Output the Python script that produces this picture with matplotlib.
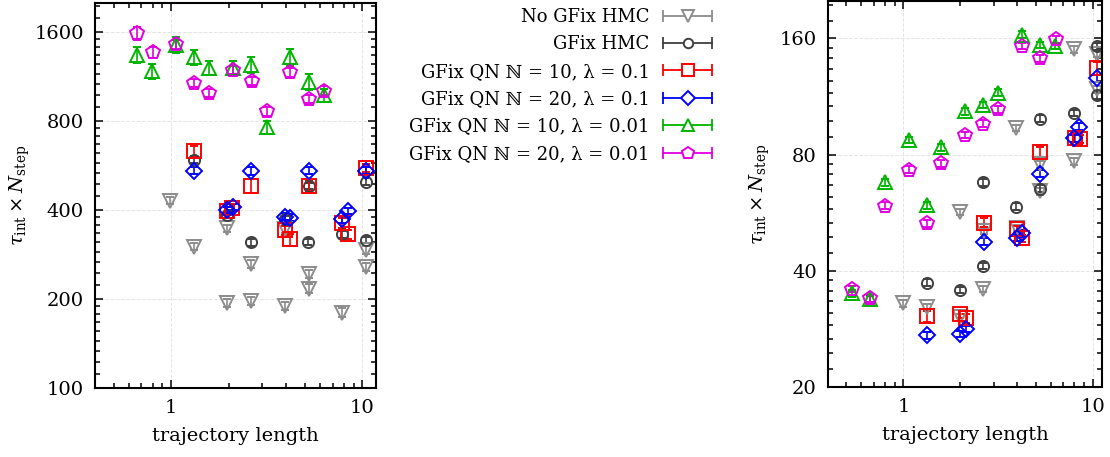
import matplotlib
matplotlib.use('Agg')
import matplotlib.pyplot as plt
from matplotlib.lines import Line2D
from matplotlib.legend_handler import HandlerBase
from matplotlib.ticker import FixedLocator, NullFormatter

plt.rcParams['font.family'] = ['DejaVu Serif', 'DejaVu Sans']
plt.rcParams['font.size'] = 13
plt.rcParams['mathtext.fontset'] = 'dejavuserif'

labels = ['No GFix HMC', 'GFix HMC',
          'GFix QN ℕ = 10, λ = 0.1', 'GFix QN ℕ = 20, λ = 0.1',
          'GFix QN ℕ = 10, λ = 0.01', 'GFix QN ℕ = 20, λ = 0.01']
colors = ['#8c8c8c', '#404040', '#ff0000', '#0000ff', '#00b400', '#e000e0']
markers = ['v', 'o', 's', 'D', '^', 'p']
sizes = [9.5, 8, 10, 8, 10, 10.5]

# left panel
l_nogfix_x = [0.99, 1.32, 1.97, 1.97, 2.63, 2.63, 3.92, 3.95, 5.25, 5.25, 7.87, 10.4, 10.4]
l_nogfix_y = [430, 301, 347, 194, 263, 197, 344, 189, 243, 217, 180, 293, 257]
l_nogfix_e = [12, 9, 10, 6, 8, 6, 10, 6, 7, 7, 6, 9, 8]
l_gfix_x = [1.32, 1.97, 2.63, 3.92, 5.22, 5.25, 7.83, 10.4, 10.5]
l_gfix_y = [590, 385, 311, 372, 312, 482, 331, 317, 499]
l_gfix_e = [15, 10, 8, 10, 8, 12, 9, 8, 13]
l_qn10a_x = [1.32, 1.96, 2.09, 2.63, 3.92, 4.2, 5.25, 7.83, 8.39, 10.5]
l_qn10a_y = [635, 398, 406, 483, 342, 318, 482, 362, 331, 556]
l_qn10a_e = [25, 12, 12, 25, 12, 15, 20, 15, 12, 18]
l_qn20a_x = [1.32, 1.97, 2.12, 2.63, 3.95, 4.2, 5.25, 7.87, 8.39, 10.5]
l_qn20a_y = [543, 400, 410, 542, 380, 377, 543, 372, 397, 543]
l_qn20a_e = [15, 10, 10, 15, 10, 10, 15, 10, 10, 15]
l_qn10b_x = [0.66, 0.79, 1.06, 1.32, 1.58, 2.10, 2.63, 3.17, 4.2, 5.26, 6.34]
l_qn10b_y = [1337, 1180, 1450, 1313, 1211, 1205, 1237, 761, 1313, 1086, 979]
l_qn10b_e = [85, 70, 90, 80, 70, 70, 75, 40, 85, 65, 50]
l_qn20b_x = [0.66, 0.80, 1.06, 1.32, 1.57, 2.10, 2.65, 3.17, 4.18, 5.26, 6.32]
l_qn20b_y = [1583, 1365, 1452, 1078, 997, 1189, 1092, 864, 1171, 947, 1013]
l_qn20b_e = [80, 60, 50, 35, 30, 40, 35, 30, 40, 30, 35]

# right panel
r_nogfix_x = [1.0, 1.33, 2.0, 2.0, 2.65, 2.67, 3.95, 4.0, 5.3, 5.3, 7.93, 7.93, 10.5, 10.5]
r_nogfix_y = [33.0, 32.2, 56.8, 30.3, 35.9, 50.7, 93.9, 51.7, 75.5, 64.2, 150, 76.8, 146, 118]
r_nogfix_e = [0.7, 0.7, 1.1, 0.6, 0.7, 1.0, 1.8, 1.0, 1.5, 1.3, 3.0, 1.5, 3.0, 2.4]
r_gfix_x = [1.33, 2.0, 2.65, 2.65, 3.92, 5.3, 5.3, 7.93, 10.5, 10.5]
r_gfix_y = [37.3, 35.7, 41.2, 67.9, 58.6, 65.3, 99.2, 102.6, 152.6, 114]
r_gfix_e = [0.8, 0.7, 0.8, 1.4, 1.2, 1.3, 2.0, 2.0, 3.0, 2.3]
r_qn10a_x = [1.33, 2.0, 2.14, 2.67, 4.0, 4.25, 5.3, 8.11, 8.62, 10.5]
r_qn10a_y = [30.5, 30.9, 30.1, 53.3, 51.2, 48.6, 81.1, 88.5, 87.7, 134]
r_qn10a_e = [1.0, 0.8, 0.8, 1.5, 1.2, 1.0, 2.5, 2.0, 2.0, 5.0]
r_qn20a_x = [1.33, 2.0, 2.14, 2.67, 4.0, 4.25, 5.3, 7.93, 8.51, 10.6]
r_qn20a_y = [27.2, 27.5, 28.2, 47.6, 48.7, 50.0, 71.3, 88.1, 94.4, 126]
r_qn20a_e = [0.5, 0.5, 0.5, 1.0, 1.0, 1.0, 1.5, 1.8, 2.0, 3.0]
r_qn10b_x = [0.537, 0.67, 0.80, 1.07, 1.33, 1.585, 2.12, 2.65, 3.16, 4.25, 5.30, 6.31]
r_qn10b_y = [35.0, 33.8, 67.8, 87.3, 59.1, 83.6, 103.6, 107.4, 115.7, 163.6, 154, 153]
r_qn10b_e = [0.7, 0.7, 1.3, 1.8, 1.2, 1.7, 2.0, 2.0, 2.3, 3.5, 3.0, 3.0]
r_qn20b_x = [0.535, 0.67, 0.80, 1.07, 1.33, 1.585, 2.12, 2.65, 3.16, 4.25, 5.30, 6.44]
r_qn20b_y = [35.9, 34.0, 59.0, 73.1, 53.1, 76.0, 89.9, 96.3, 104.9, 153, 142, 159]
r_qn20b_e = [0.7, 0.7, 1.2, 1.5, 1.1, 1.5, 1.8, 2.0, 2.1, 3.0, 3.0, 3.0]

left = [(l_nogfix_x, l_nogfix_y, l_nogfix_e), (l_gfix_x, l_gfix_y, l_gfix_e),
        (l_qn10a_x, l_qn10a_y, l_qn10a_e), (l_qn20a_x, l_qn20a_y, l_qn20a_e),
        (l_qn10b_x, l_qn10b_y, l_qn10b_e), (l_qn20b_x, l_qn20b_y, l_qn20b_e)]
right = [(r_nogfix_x, r_nogfix_y, r_nogfix_e), (r_gfix_x, r_gfix_y, r_gfix_e),
         (r_qn10a_x, r_qn10a_y, r_qn10a_e), (r_qn20a_x, r_qn20a_y, r_qn20a_e),
         (r_qn10b_x, r_qn10b_y, r_qn10b_e), (r_qn20b_x, r_qn20b_y, r_qn20b_e)]


class CapHandler(HandlerBase):
    """legend entry drawn as a horizontal error bar with the marker in the middle"""
    def create_artists(self, legend, orig_handle, xdescent, ydescent,
                       width, height, fontsize, trans):
        c = orig_handle.get_color()
        y = height / 2.0 - ydescent
        x0 = -xdescent
        x1 = x0 + width
        line = Line2D([x0, x1], [y, y], color=c, lw=1.3)
        caps = Line2D([x0, x1], [y, y], ls='none', marker='|', ms=9, mew=1.3, color=c)
        mk = Line2D([(x0 + x1) / 2.0], [y], ls='none', marker=orig_handle.get_marker(),
                    ms=orig_handle.get_markersize() * 0.85, mfc='white', mec=c, mew=1.4)
        for a in (line, caps, mk):
            a.set_transform(trans)
        return [line, caps, mk]


def setup_axis(ax, ymajor, yminor, ylim):
    ax.set_xscale('log')
    ax.set_yscale('log')
    ax.set_ylim(*ylim)
    ax.yaxis.set_major_locator(FixedLocator(ymajor))
    ax.yaxis.set_minor_locator(FixedLocator(yminor))
    ax.yaxis.set_minor_formatter(NullFormatter())
    ax.set_yticklabels([str(v) for v in ymajor])
    ax.set_xticks([1, 10])
    ax.set_xticklabels(['1', '10'])
    ax.tick_params(which='both', direction='in', top=True, right=True, width=1.1)
    ax.tick_params(which='major', length=6, labelsize=14)
    ax.tick_params(axis='y', which='major', pad=8)
    ax.tick_params(axis='x', which='major', pad=8)
    ax.tick_params(which='minor', length=3.5)
    ax.grid(True, which='major', color='#e4e4e4', ls='--', lw=0.7)
    ax.set_axisbelow(True)
    for s in ax.spines.values():
        s.set_linewidth(1.5)
    ax.set_xlabel('trajectory length', fontsize=14, labelpad=7)
    ax.set_ylabel(r'$\tau_{\rm int}\times N_{\rm step}$', fontsize=14)


def minor_ticks(majors):
    ticks = []
    for m in majors[:-1]:
        ticks += [m * (1 + k / 9.0) for k in range(1, 9)]
    return ticks


fig = plt.figure(figsize=(11.1, 4.57), dpi=100)
ax1 = fig.add_axes([95 / 1110., 1 - 388 / 457., 281 / 1110., 385 / 457.])
ax2 = fig.add_axes([828 / 1110., 1 - 387 / 457., 274 / 1110., 386 / 457.])

for ax, data in ((ax1, left), (ax2, right)):
    for (x, y, e), c, m, ms in zip(data, colors, markers, sizes):
        ax.errorbar(x, y, yerr=e, fmt=m, color=c, mfc='none', mec=c, ms=ms, mew=1.4,
                    ecolor=c, elinewidth=1.2, capsize=3, capthick=1.2, ls='none')

lmaj = [100, 200, 400, 800, 1600, 3200]
setup_axis(ax1, lmaj[:-1], minor_ticks(lmaj), (100, 2005))
rmaj = [20, 40, 80, 160, 320]
setup_axis(ax2, rmaj[:-1], minor_ticks(rmaj), (20, 200))
ax1.set_xlim(0.4, 11.8)
ax2.set_xlim(0.4, 11.2)
ax1.yaxis.set_label_coords(-0.225, 0.5)
ax2.yaxis.set_label_coords(-0.205, 0.5)

handles = [Line2D([], [], color=c, marker=m, ms=ms) for c, m, ms in zip(colors, markers, sizes)]
fig.legend(handles, labels, handler_map={Line2D: CapHandler()}, loc='upper right',
           bbox_to_anchor=(712 / 1110., 1 - 8 / 457.), frameon=False, markerfirst=False,
           fontsize=13, handlelength=2.7, handletextpad=0.75, labelspacing=0.52,
           borderpad=0, borderaxespad=0)

plt.savefig('out.png', dpi=100)
